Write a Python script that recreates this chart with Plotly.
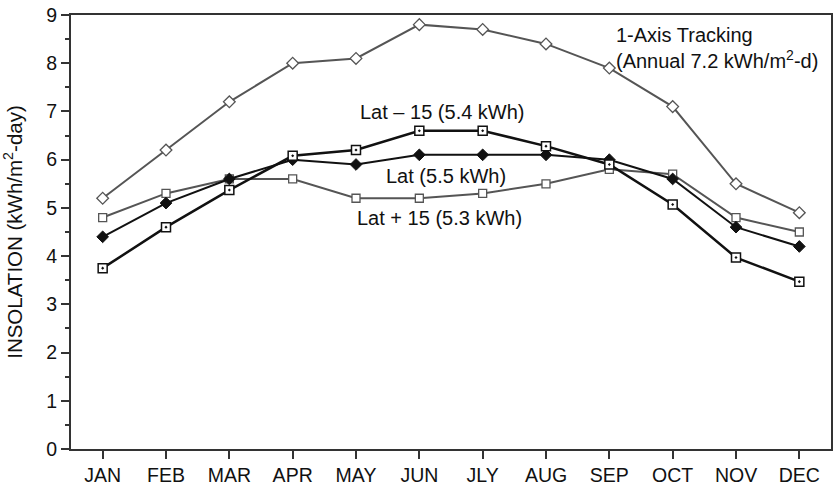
import plotly.graph_objects as go

months = ["JAN", "FEB", "MAR", "APR", "MAY", "JUN", "JLY", "AUG", "SEP", "OCT", "NOV", "DEC"]
tracking = [5.2, 6.2, 7.2, 8.0, 8.1, 8.8, 8.7, 8.4, 7.9, 7.1, 5.5, 4.9]
lat_plus15 = [4.8, 5.3, 5.6, 5.6, 5.2, 5.2, 5.3, 5.5, 5.8, 5.7, 4.8, 4.5]
lat = [4.4, 5.1, 5.6, 6.0, 5.9, 6.1, 6.1, 6.1, 6.0, 5.6, 4.6, 4.2]
lat_minus15 = [3.75, 4.6, 5.37, 6.08, 6.2, 6.6, 6.6, 6.28, 5.9, 5.07, 3.97, 3.47]

FONT = "Liberation Sans, Arial, Helvetica, sans-serif"
GRAY = "#555555"
BLACK = "#111111"

x = list(range(len(months)))

fig = go.Figure()
fig.add_trace(go.Scatter(x=x, y=tracking, mode="lines+markers",
                         line=dict(color=GRAY, width=2),
                         marker=dict(symbol="diamond", size=9, color="white",
                                     line=dict(color=GRAY, width=1.3))))
fig.add_trace(go.Scatter(x=x, y=lat_plus15, mode="lines+markers",
                         line=dict(color=GRAY, width=2),
                         marker=dict(symbol="square", size=8, color="white",
                                     line=dict(color=GRAY, width=1.3))))
fig.add_trace(go.Scatter(x=x, y=lat, mode="lines+markers",
                         line=dict(color=BLACK, width=2),
                         marker=dict(symbol="diamond", size=9, color=BLACK,
                                     line=dict(color=BLACK, width=1))))
fig.add_trace(go.Scatter(x=x, y=lat_minus15, mode="lines+markers",
                         line=dict(color=BLACK, width=2.5),
                         marker=dict(symbol="square-dot", size=9, color="white",
                                     line=dict(color=BLACK, width=1.5))))

ann_font = dict(family=FONT, size=20, color="#111111")
annotations = [
    dict(x=(443 - 71) / 762, y=(449 - 112) / 434, text="Lat – 15 (5.4 kWh)", xanchor="center"),
    dict(x=(447 - 71) / 762, y=(449 - 176) / 434, text="Lat (5.5 kWh)", xanchor="center"),
    dict(x=(440 - 71) / 762, y=(449 - 218) / 434, text="Lat + 15 (5.3 kWh)", xanchor="center"),
    dict(x=(615 - 71) / 762, y=(449 - 48) / 434, xanchor="left", align="left",
         text="1-Axis Tracking<br>(Annual 7.2 kWh/m<sup>2</sup>-d)"),
]
for a in annotations:
    fig.add_annotation(xref="paper", yref="paper", yanchor="middle", showarrow=False,
                       font=ann_font, **a)

fig.update_layout(
    width=834, height=489,
    margin=dict(l=71, r=1, t=15, b=40),
    paper_bgcolor="white", plot_bgcolor="white",
    showlegend=False,
    font=dict(family=FONT, size=19.5, color="#111111"),
    xaxis=dict(range=[-0.5, 11.5], tickmode="array", tickvals=x, ticktext=months,
               showgrid=False, zeroline=False, showline=True, linecolor="#333333",
               linewidth=2, mirror=True, ticks="outside", ticklen=8, tickwidth=1.5,
               tickcolor="#333333", tickfont=dict(size=19.5)),
    yaxis=dict(range=[0, 9], dtick=1, showgrid=False, zeroline=False, showline=True,
               linecolor="#333333", linewidth=2, mirror=True, ticks="outside",
               ticklen=8, tickwidth=1.5, tickcolor="#333333",
               minor=dict(dtick=0.5, ticks="outside", ticklen=4, tickwidth=1.5,
                          tickcolor="#333333", showgrid=False),
               tickfont=dict(size=19.5),
               title=dict(text="INSOLATION (kWh/m<sup>2</sup>-day)", standoff=18,
                          font=dict(size=20.5))),
)

fig.write_html("out.html", config={"displayModeBar": False},
               post_script="document.body.style.margin='0';")
